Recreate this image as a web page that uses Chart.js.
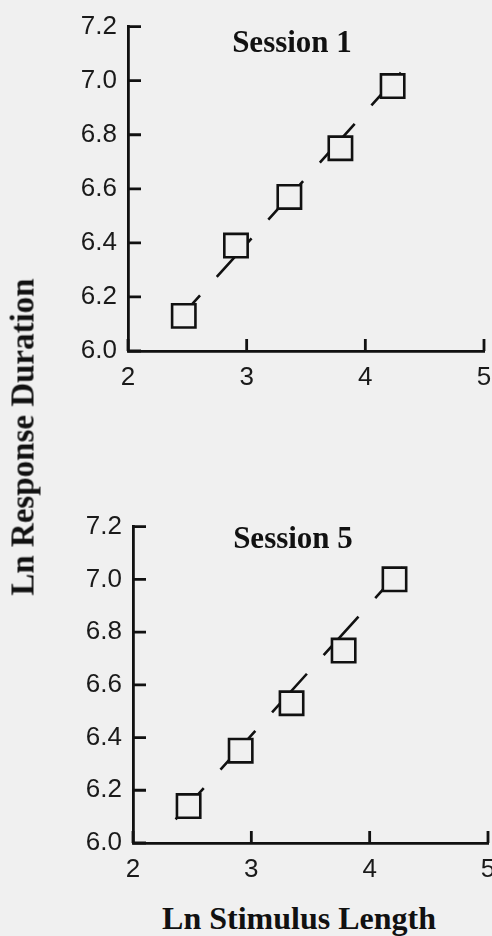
<!DOCTYPE html>
<html>
<head>
<meta charset="utf-8">
<script src="https://cdn.jsdelivr.net/npm/chart.js@4.4.1/dist/chart.umd.min.js"></script>
<style>
  body { margin: 0; background: #f0f0f0; width: 492px; height: 936px; overflow: hidden; position: relative; }
  .panel { position: absolute; left: 0; width: 520px; height: 400px; }
  .lbl { position: absolute; font-family: "Liberation Serif", "Times New Roman", serif; font-weight: bold;
         color: #111; white-space: nowrap; line-height: 1; }
</style>
</head>
<body>
<div class="panel" style="top:0"><canvas id="session1"></canvas></div>
<div class="panel" style="top:500px"><canvas id="session5"></canvas></div>

<div class="lbl" style="font-size:31px;left:292px;top:26px;transform:translateX(-50%)">Session 1</div>
<div class="lbl" style="font-size:31px;left:293px;top:522px;transform:translateX(-50%)">Session 5</div>
<div class="lbl" style="font-size:32px;left:299px;top:902px;transform:translateX(-50%)">Ln Stimulus Length</div>
<div class="lbl" style="font-size:33px;left:23px;top:437px;transform:translate(-50%,-50%) rotate(-90deg)">Ln Response Duration</div>

<script>
// values (ln units)
const s1X = [2.47, 2.91, 3.36, 3.79, 4.23];
const s1Y = [6.13, 6.39, 6.57, 6.75, 6.98];
const s5X = [2.47, 2.91, 3.34, 3.78, 4.21];
const s5Y = [6.14, 6.35, 6.53, 6.73, 7.00];

// fitted line ends, as drawn
const fit1X = [2.37, 4.30];
const fit1Y = [6.09, 7.03];
const fit5X = [2.36, 4.28];
const fit5Y = [6.09, 7.045];

const xTicks = [2, 3, 4, 5];
const yTicks = [6.0, 6.2, 6.4, 6.6, 6.8, 7.0, 7.2];

const ink = '#111';
const paper = '#f0f0f0';

// ticks point into the plot, like the printed figure
const inwardTicks = {
    id: 'inwardTicks',
    afterDraw(chart) {
        const ctx = chart.ctx;
        const area = chart.chartArea;
        const xs = chart.scales.x, ys = chart.scales.y;
        ctx.save();
        ctx.strokeStyle = ink;
        ctx.lineWidth = 2.8;
        ctx.beginPath();
        ys.ticks.forEach(t => {
            const py = ys.getPixelForValue(t.value);
            ctx.moveTo(area.left, py);
            ctx.lineTo(area.left + 13, py);
        });
        xs.ticks.forEach(t => {
            const px = xs.getPixelForValue(t.value);
            ctx.moveTo(px, area.bottom);
            ctx.lineTo(px, area.bottom - 12);
        });
        ctx.stroke();
        ctx.restore();
    }
};

function pts(xArr, yArr) {
    return xArr.map((x, i) => ({ x: x, y: yArr[i] }));
}

function makePanel(id, px, py, fx, fy, yWidth, xHeight, padRight) {
    new Chart(document.getElementById(id), {
        type: 'scatter',
        data: {
            datasets: [{
                data: pts(px, py),
                pointStyle: 'rect',
                pointRadius: 16.5,
                pointHoverRadius: 16.5,
                pointBorderWidth: 2.6,
                borderColor: ink,
                backgroundColor: paper,
                order: 1,
                clip: false
            }, {
                data: pts(fx, fy),
                showLine: true,
                borderColor: ink,
                borderWidth: 2.6,
                borderDash: [52, 25],
                borderDashOffset: 10,
                pointRadius: 0,
                order: 2
            }]
        },
        options: {
            responsive: true,
            maintainAspectRatio: false,
            devicePixelRatio: 1,
            animation: false,
            events: [],
            layout: { padding: { top: 25, right: padRight, bottom: 0, left: 0 } },
            plugins: { legend: { display: false }, tooltip: { enabled: false } },
            scales: {
                x: {
                    type: 'linear',
                    min: 2, max: 5,
                    afterBuildTicks: s => { s.ticks = xTicks.map(v => ({ value: v })); },
                    afterFit: s => { s.height = xHeight; },
                    grid: { display: false, drawTicks: false },
                    border: { display: true, color: ink, width: 2.8 },
                    ticks: {
                        color: '#1a1a1a',
                        padding: 11,
                        font: { family: 'Liberation Sans', size: 26 },
                        callback: v => String(v)
                    }
                },
                y: {
                    min: 6.0, max: 7.2,
                    afterBuildTicks: s => { s.ticks = yTicks.map(v => ({ value: v })); },
                    afterFit: s => { s.width = yWidth; },
                    grid: { display: false, drawTicks: false },
                    border: { display: true, color: ink, width: 2.8 },
                    ticks: {
                        color: '#1a1a1a',
                        padding: 11,
                        font: { family: 'Liberation Sans', size: 26 },
                        callback: v => Number(v).toFixed(1)
                    }
                }
            }
        },
        plugins: [inwardTicks]
    });
}

makePanel('session1', s1X, s1Y, fit1X, fit1Y, 128, 49, 36);
makePanel('session5', s5X, s5Y, fit5X, fit5Y, 133, 57, 32);
</script>
</body>
</html>
